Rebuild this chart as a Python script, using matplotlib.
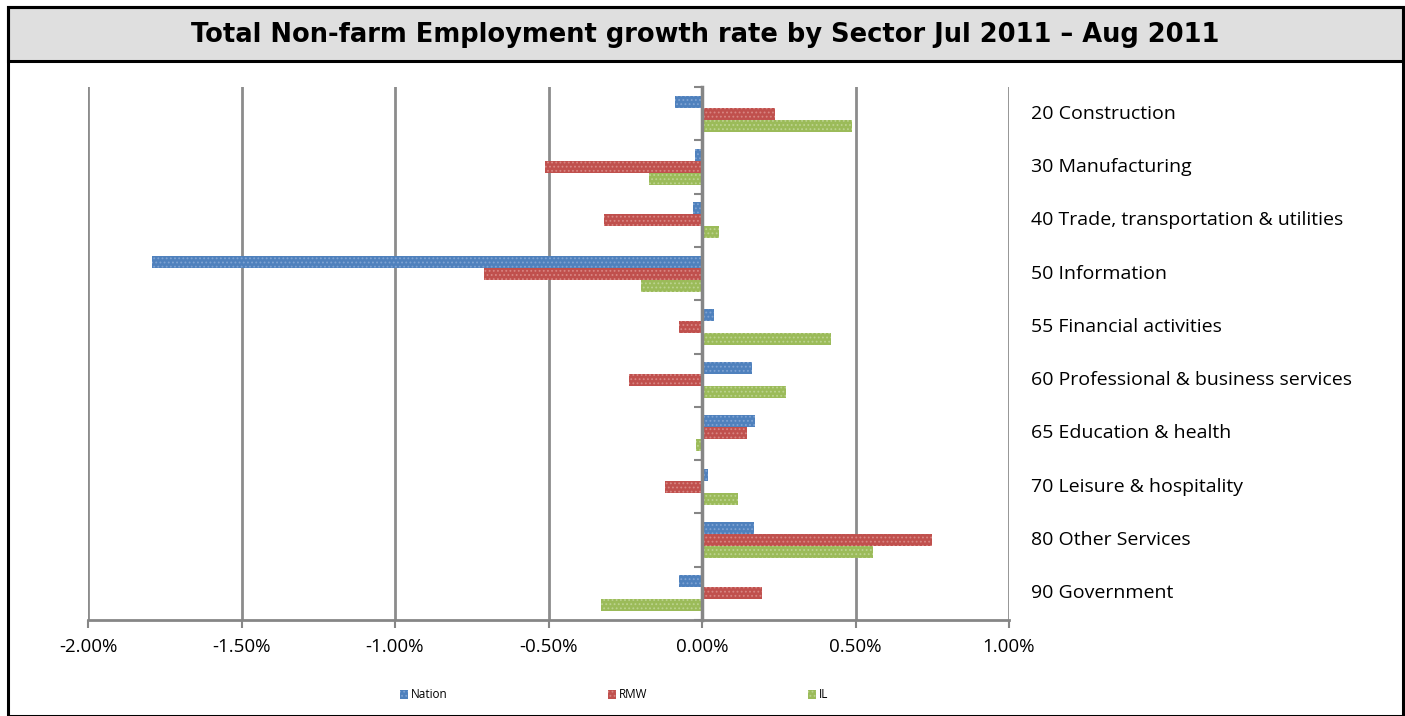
import matplotlib
matplotlib.use("Agg")
import matplotlib.pyplot as plt
from matplotlib.patches import Rectangle
import numpy as np

categories = ["20 Construction", "30 Manufacturing", "40 Trade, transportation & utilities",
              "50 Information", "55 Financial activities", "60 Professional & business services",
              "65 Education & health", "70 Leisure & hospitality", "80 Other Services",
              "90 Government"]
nation = [-0.088, -0.022, -0.030, -1.790, 0.040, 0.163, 0.172, 0.018, 0.168, -0.075]
rmw    = [0.238, -0.510, -0.320, -0.710, -0.075, -0.238, 0.147, -0.120, 0.749, 0.194]
il     = [0.490, -0.173, 0.055, -0.200, 0.420, 0.273, -0.020, 0.118, 0.558, -0.330]
series_names = ["Nation", "RMW", "IL"]
xticks = [-2.0, -1.5, -1.0, -0.5, 0.0, 0.5, 1.0]
xtick_labels = ["-2.00%", "-1.50%", "-1.00%", "-0.50%", "0.00%", "0.50%", "1.00%"]

colors = ["#4F81BD", "#C0504D", "#9BBB59"]
hatch_colors = ["#7FA3D3", "#D88683", "#BCD38F"]

W, H = 1405, 716
fig = plt.figure(figsize=(W / 100, H / 100), dpi=100)
plt.rcParams['hatch.linewidth'] = 0.8

# Frame and title box
fig.patches.append(Rectangle((8 / W, 0), (1403 - 8) / W, (H - 7) / H, transform=fig.transFigure,
                             facecolor="none", edgecolor="black", linewidth=2.2, zorder=5))
fig.patches.append(Rectangle((8 / W, 1 - 61 / H), (1403 - 8) / W, (61 - 7) / H, transform=fig.transFigure,
                             facecolor="#DFDFDF", edgecolor="black", linewidth=2.2, zorder=1))
fig.text(705 / W, 1 - 35 / H, "Total Non-farm Employment growth rate by Sector Jul 2011 \u2013 Aug 2011",
         ha="center", va="center", fontsize=18.5, fontweight="bold", family="DejaVu Sans",
         color="black", zorder=6)

ax = fig.add_axes([88 / W, 1 - 620 / H, (1009 - 88) / W, (620 - 87) / H])
ax.set_facecolor("none")
ax.set_zorder(3)

n = len(categories)
y = np.arange(n)
h = 0.225
data = [nation, rmw, il]
handles = []
for i, (vals, c, hc, name) in enumerate(zip(data, colors, hatch_colors, series_names)):
    b = ax.barh(y + (i - 1) * h, vals, height=h, color=c, edgecolor=hc, linewidth=0,
                hatch="....", label=name, zorder=3)
    handles.append(b)

ax.set_xlim(-2.0, 1.0)
ax.set_ylim(n - 0.5, -0.5)

for xv in xticks:
    if xv != 0:
        ax.axvline(xv, color="#8C8C8C", linewidth=2, zorder=1)

for s in ["top", "right"]:
    ax.spines[s].set_visible(False)
ax.spines["left"].set_position(("data", 0))
ax.spines["left"].set_color("#868686")
ax.spines["left"].set_linewidth(2.5)
ax.spines["left"].set_zorder(4)
ax.spines["bottom"].set_color("#868686")
ax.spines["bottom"].set_linewidth(2)

ax.set_yticks(np.arange(-0.5, n + 0.5, 1))
ax.set_yticklabels([])
ax.tick_params(axis="y", direction="out", length=6, width=1.5, color="#868686")
ax.set_xticks(xticks)
ax.set_xticklabels(xtick_labels, fontsize=13.5, family="Open Sans")
ax.tick_params(axis="x", direction="out", length=6, width=1.5, color="#868686", pad=7)

for i, cat in enumerate(categories):
    ax.annotate(cat, xy=(1031 / W, y[i]), xycoords=("figure fraction", "data"),
                ha="left", va="center", fontsize=14, family="Open Sans", color="black",
                annotation_clip=False)

leg = fig.legend(handles=handles, labels=series_names, loc="center",
                 bbox_to_anchor=(614 / W, 1 - 695 / H), ncol=3, frameon=False,
                 prop={"family": "Open Sans", "size": 8.5}, handlelength=0.7, handleheight=0.7,
                 handletextpad=0.2, columnspacing=13.6)

fig.savefig("out.png", dpi=100)
